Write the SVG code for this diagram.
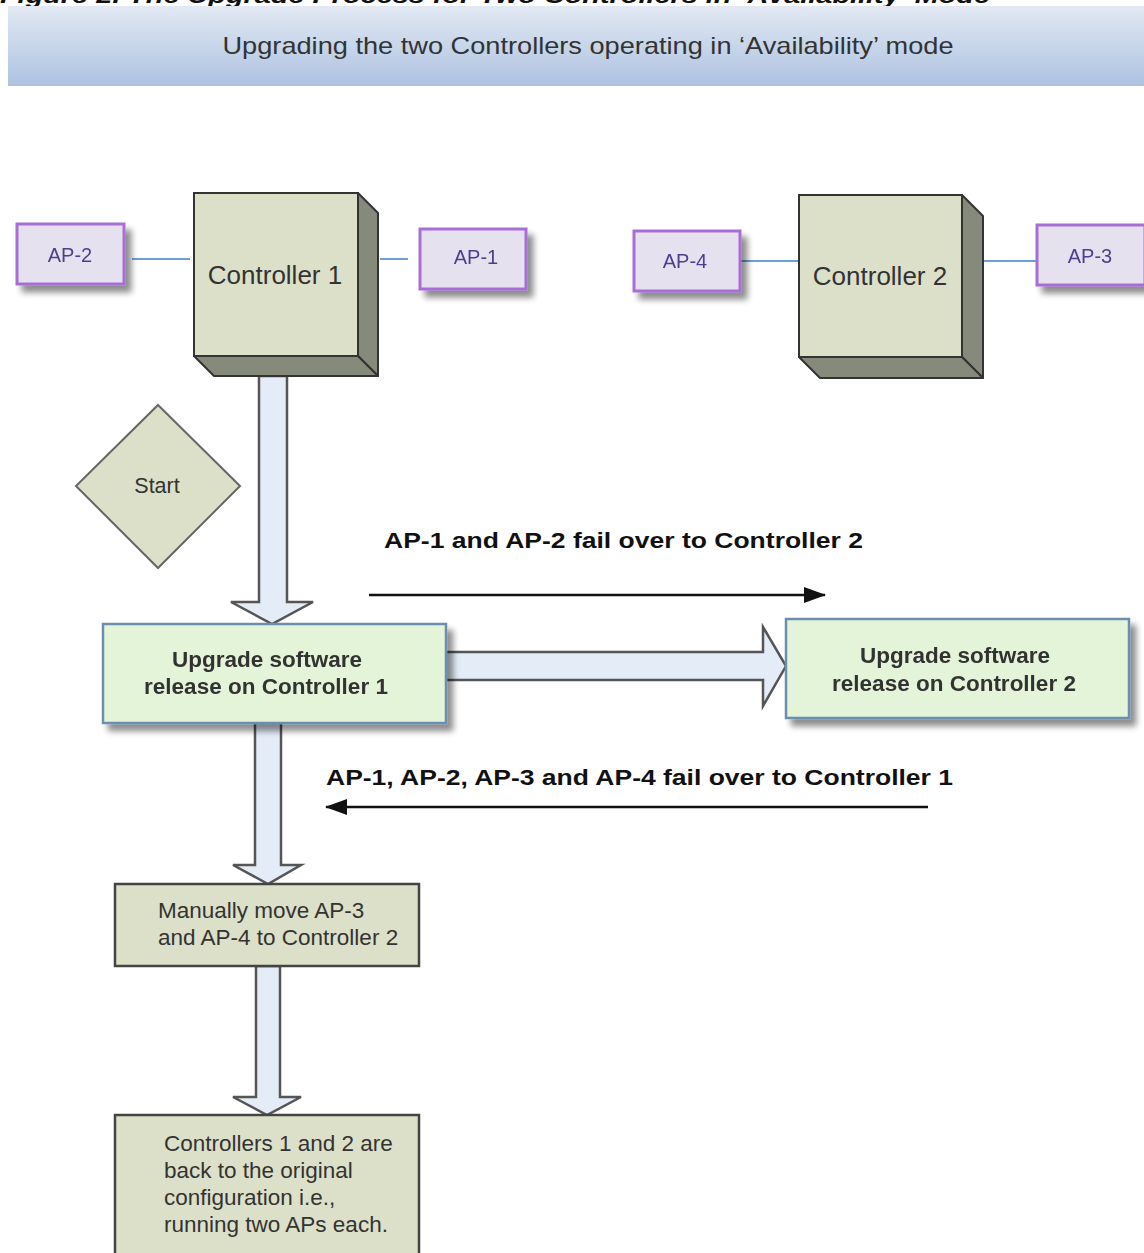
<svg xmlns="http://www.w3.org/2000/svg" width="1144" height="1253" viewBox="0 0 1144 1253">
<defs>
  <linearGradient id="hdr" x1="0" y1="0" x2="0" y2="1">
    <stop offset="0" stop-color="#e2e9f3"/>
    <stop offset="1" stop-color="#adc2e0"/>
  </linearGradient>
  <filter id="sh" x="-20%" y="-20%" width="150%" height="160%">
    <feGaussianBlur in="SourceAlpha" stdDeviation="3"/>
    <feOffset dx="6" dy="7" result="b"/>
    <feComponentTransfer><feFuncA type="linear" slope="0.45"/></feComponentTransfer>
    <feMerge><feMergeNode/><feMergeNode in="SourceGraphic"/></feMerge>
  </filter>
  <marker id="ah" viewBox="0 0 22 16" refX="21" refY="8" markerWidth="22" markerHeight="16" markerUnits="userSpaceOnUse" orient="auto">
    <path d="M0,0 L22,8 L0,16 z" fill="#111"/>
  </marker>
</defs>
<style>
  .ap rect { fill: #e6e1ee; stroke: #a86ed8; stroke-width: 3; }
  .ap text { font-family: "Liberation Sans", Arial, sans-serif; font-size: 20px; fill: #4b3f8f; text-anchor: middle; }
  .front { fill: #dde0c8; stroke: #333; stroke-width: 2; }
  .side { fill: #858a7a; stroke: #333; stroke-width: 2; stroke-linejoin: round; }
  .ctext { font-family: "Liberation Sans", Arial, sans-serif; font-size: 26px; fill: #333; text-anchor: middle; }
  .link { stroke: #6f9fd8; stroke-width: 2; }
  .blk { fill: #e4ecf7; stroke: #555; stroke-width: 2.5; stroke-linejoin: miter; }
  .up rect { fill: #e4f4d8; stroke: #6b8fb0; stroke-width: 2.5; }
  .up text { font-family: "Liberation Sans", Arial, sans-serif; font-size: 22.5px; font-weight: bold; fill: #333; text-anchor: middle; }
  .gbox rect { fill: #dde0c8; stroke: #444; stroke-width: 2.5; }
  .gbox text { font-family: "Liberation Sans", Arial, sans-serif; font-size: 22.5px; fill: #333; }
  .lbl { font-family: "Liberation Sans", Arial, sans-serif; font-size: 22px; font-weight: bold; fill: #111; }
  .line { stroke: #111; stroke-width: 2.5; fill: none; }
</style>

<text x="0" y="3" font-family="Liberation Sans, Arial, sans-serif" font-size="22" font-weight="bold" font-style="italic" fill="#111" textLength="990" lengthAdjust="spacingAndGlyphs">Figure 2. The Upgrade Process for Two Controllers in ‘Availability’ Mode</text>

<g id="header">
  <rect x="8" y="6" width="1136" height="80" fill="url(#hdr)"/>
  <text x="588" y="54" font-family="Liberation Sans, Arial, sans-serif" font-size="24" fill="#333" text-anchor="middle" textLength="731" lengthAdjust="spacingAndGlyphs">Upgrading the two Controllers operating in ‘Availability’ mode</text>
</g>

<g id="connectors">
  <line class="link" x1="132" y1="259" x2="190" y2="259"/>
  <line class="link" x1="380" y1="259" x2="408" y2="259"/>
  <line class="link" x1="740" y1="261" x2="799" y2="261"/>
  <line class="link" x1="983" y1="261" x2="1037" y2="261"/>
  <path class="blk" d="M259,376 L287,376 L287,602 L313,602 L272,624 L231,602 L259,602 Z"/>
  <path class="blk" d="M446,652 L763,652 L763,627 L786,666 L763,706 L763,680 L446,680 Z"/>
  <path class="blk" d="M255,723 L281,723 L281,865 L301,865 L268,884 L233,865 L255,865 Z"/>
  <path class="blk" d="M256,966 L280,966 L280,1097 L301,1097 L267,1115 L233,1097 L256,1097 Z"/>
  <line class="line" x1="369" y1="595" x2="825" y2="595" marker-end="url(#ah)"/>
  <line class="line" x1="928" y1="807" x2="326" y2="807" marker-end="url(#ah)"/>
  <text class="lbl" x="384" y="548" textLength="479" lengthAdjust="spacingAndGlyphs">AP-1 and AP-2 fail over to Controller 2</text>
  <text class="lbl" x="326" y="785" textLength="627" lengthAdjust="spacingAndGlyphs">AP-1, AP-2, AP-3 and AP-4 fail over to Controller 1</text>
</g>

<g id="ap2" class="ap" filter="url(#sh)">
  <rect x="17" y="224" width="107" height="60"/>
  <text x="70" y="262">AP-2</text>
</g>
<g id="ap1" class="ap" filter="url(#sh)">
  <rect x="420" y="229" width="106" height="60"/>
  <text x="476" y="264">AP-1</text>
</g>
<g id="ap4" class="ap" filter="url(#sh)">
  <rect x="634" y="231" width="106" height="60"/>
  <text x="685" y="268">AP-4</text>
</g>
<g id="ap3" class="ap" filter="url(#sh)">
  <rect x="1037" y="225" width="108" height="60"/>
  <text x="1090" y="263">AP-3</text>
</g>

<g id="controller1">
  <path class="side" d="M358,193 L378,213 L378,376 L358,356 Z"/>
  <path class="side" d="M194,356 L358,356 L378,376 L214,376 Z"/>
  <rect class="front" x="194" y="193" width="164" height="163"/>
  <text class="ctext" x="275" y="284">Controller 1</text>
</g>
<g id="controller2">
  <path class="side" d="M962,195 L983,216 L983,378 L962,357 Z"/>
  <path class="side" d="M799,357 L962,357 L983,378 L820,378 Z"/>
  <rect class="front" x="799" y="195" width="163" height="162"/>
  <text class="ctext" x="880" y="285">Controller 2</text>
</g>

<g id="start">
  <path d="M158,405 L240,486 L158,568 L76,486 Z" fill="#dde0c8" stroke="#666" stroke-width="2"/>
  <text x="157" y="493" font-family="Liberation Sans, Arial, sans-serif" font-size="21.5" fill="#333" text-anchor="middle">Start</text>
</g>

<g id="upgrade1" class="up" filter="url(#sh)">
  <rect x="103" y="624" width="343" height="99"/>
  <text x="267" y="667">Upgrade software</text>
  <text x="266" y="694">release on Controller 1</text>
</g>
<g id="upgrade2" class="up" filter="url(#sh)">
  <rect x="786" y="619" width="343" height="99"/>
  <text x="955" y="663">Upgrade software</text>
  <text x="954" y="691">release on Controller 2</text>
</g>

<g id="manual" class="gbox">
  <rect x="115" y="884" width="304" height="82"/>
  <text x="158" y="918">Manually move AP-3</text>
  <text x="158" y="945">and AP-4 to Controller 2</text>
</g>
<g id="final" class="gbox">
  <rect x="115" y="1115" width="304" height="150"/>
  <text x="164" y="1151">Controllers 1 and 2 are</text>
  <text x="164" y="1178">back to the original</text>
  <text x="164" y="1205">configuration i.e.,</text>
  <text x="164" y="1232">running two APs each.</text>
</g>
</svg>
